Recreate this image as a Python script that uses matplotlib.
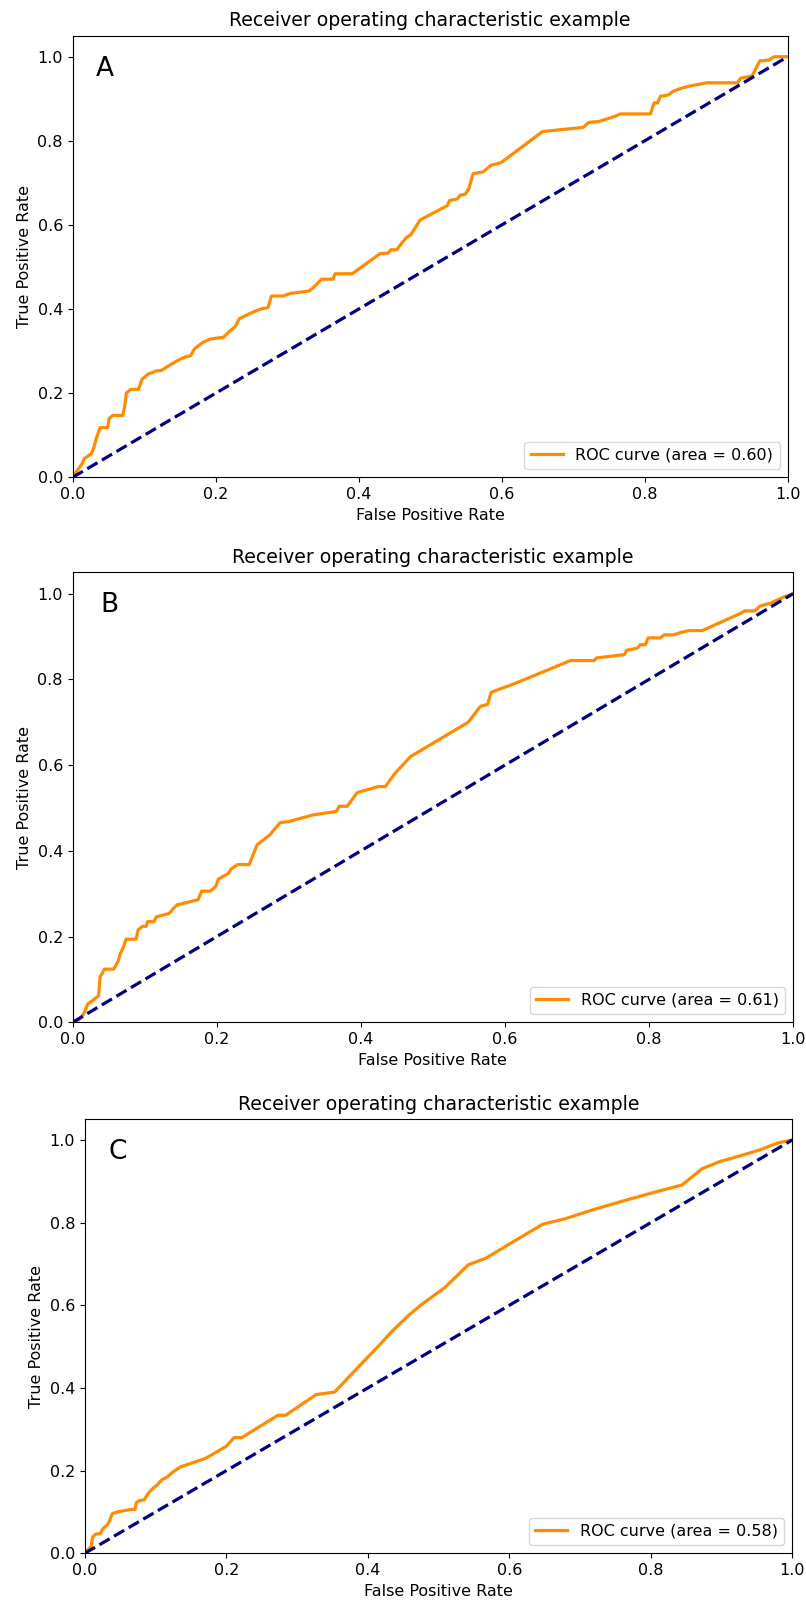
import matplotlib
matplotlib.use("Agg")
import matplotlib.pyplot as plt

# ---- data ----
fpr_a = [0, .013, .016, .026, .029, .033, .037, .038, .049, .051, .056, .070, .073, .075, .081, .092,
         .097, .106, .117, .124, .134, .146, .157, .165, .170, .182, .193, .211, .218, .227, .233,
         .247, .258, .265, .273, .278, .294, .304, .331, .339, .348, .364, .367, .391, .430, .441,
         .445, .453, .466, .473, .486, .524, .527, .538, .542, .549, .554, .556, .560, .574, .585,
         .599, .657, .714, .722, .736, .758, .766, .808, .813, .818, .822, .833, .840, .851, .862,
         .887, .930, .934, .950, .955, .961, .974, .981, 1.0]
tpr_a = [0, .032, .044, .056, .068, .092, .112, .118, .118, .140, .147, .147, .172, .200, .209, .209,
         .233, .246, .253, .254, .265, .277, .286, .289, .305, .321, .329, .333, .345, .358, .377,
         .389, .397, .401, .403, .431, .431, .437, .443, .455, .471, .471, .484, .484, .532, .533,
         .541, .541, .569, .577, .612, .646, .658, .662, .671, .673, .686, .698, .722, .726, .742,
         .748, .822, .832, .844, .846, .858, .864, .864, .890, .890, .906, .909, .918, .925, .930,
         .938, .938, .949, .954, .970, .990, .992, 1.0, 1.0]

fpr_b = [0, .009, .016, .021, .027, .033, .036, .038, .041, .044, .057, .063, .066, .071, .074, .088,
         .091, .097, .102, .104, .113, .116, .134, .140, .145, .174, .179, .191, .199, .202, .216,
         .220, .229, .245, .256, .274, .288, .299, .334, .366, .370, .381, .395, .424, .434, .447,
         .469, .495, .549, .566, .576, .581, .613, .691, .724, .727, .766, .769, .784, .788, .795,
         .799, .816, .821, .834, .845, .856, .874, .927, .933, .947, .954, .970, .984, 1.0]
tpr_b = [0, .006, .022, .043, .050, .058, .062, .106, .114, .124, .124, .142, .160, .178, .194, .194,
         .216, .224, .224, .235, .235, .246, .254, .266, .274, .286, .306, .306, .318, .334, .347,
         .358, .368, .368, .414, .438, .466, .468, .484, .492, .504, .504, .536, .550, .550, .580,
         .620, .646, .700, .737, .742, .770, .790, .844, .844, .850, .858, .868, .873, .881, .881,
         .897, .897, .904, .904, .910, .914, .914, .954, .960, .960, .971, .979, .990, 1.0]

fpr_c = [0, .004, .009, .011, .015, .022, .025, .033, .039, .046, .055, .065, .071, .073, .078, .084,
         .087, .091, .095, .102, .109, .116, .124, .135, .171, .200, .211, .222, .273, .284, .302,
         .327, .353, .389, .415, .433, .458, .476, .509, .542, .567, .596, .647, .680, .716, .760,
         .804, .844, .873, .898, .927, .956, .975, .980, 1.0]
tpr_c = [0, .008, .017, .039, .046, .048, .058, .071, .096, .100, .103, .106, .106, .123, .128, .129,
         .138, .148, .155, .165, .178, .184, .196, .209, .230, .259, .280, .280, .334, .334, .355,
         .384, .390, .455, .501, .535, .576, .602, .643, .698, .714, .744, .796, .810, .830, .852,
         .873, .891, .931, .948, .962, .977, .990, .993, 1.0]

chance = [0, 1]
areas = ["0.60", "0.61", "0.58"]
letters = ["A", "B", "C"]
title = "Receiver operating characteristic example"
xlabel = "False Positive Rate"
ylabel = "True Positive Rate"
ticks = [0.0, 0.2, 0.4, 0.6, 0.8, 1.0]

W, H = 806, 1603
fig = plt.figure(figsize=(W / 100, H / 100), dpi=100)

# axes rectangles in pixels: left, top, right, bottom
rects = [(72.7, 35.7, 787.7, 477.3),
         (72.7, 572.3, 793.0, 1022.3),
         (84.8, 1119.3, 792.3, 1553.3)]
curves = [(fpr_a, tpr_a), (fpr_b, tpr_b), (fpr_c, tpr_c)]
letter_pos = [(0.032, 0.925), (0.039, 0.927), (0.034, 0.925)]

fs_tick = 11.5
for i, ((l, t, r, b), (fx, ty)) in enumerate(zip(rects, curves)):
    ax = fig.add_axes([l / W, (H - b) / H, (r - l) / W, (b - t) / H])
    ax.plot(fx, ty, color="darkorange", lw=2.3,
            label=f"ROC curve (area = {areas[i]})")
    ax.plot(chance, chance, color="navy", lw=2.3, linestyle="--")
    ax.set_xlim(0.0, 1.0)
    ax.set_ylim(0.0, 1.05)
    ax.set_xticks(ticks)
    ax.set_yticks(ticks)
    ax.tick_params(labelsize=fs_tick)
    ax.set_xlabel(xlabel, fontsize=fs_tick)
    ax.set_ylabel(ylabel, fontsize=fs_tick)
    ax.set_title(title, fontsize=13.6, pad=7)
    ax.legend(loc="lower right", fontsize=fs_tick)
    ax.text(letter_pos[i][0], letter_pos[i][1], letters[i], transform=ax.transAxes,
            fontsize=19, va="center", ha="left")

fig.savefig("out.png", dpi=100)
